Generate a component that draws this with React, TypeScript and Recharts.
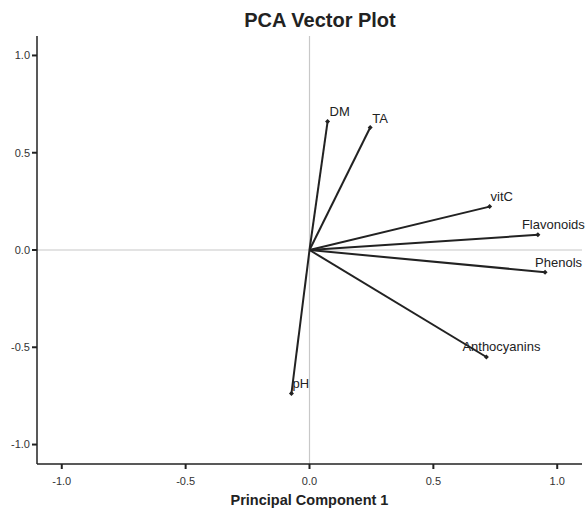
import { Label, ReferenceLine, Scatter, ScatterChart, XAxis, YAxis } from "recharts";

const variables = ["DM", "TA", "vitC", "Flavonoids", "Phenols", "Anthocyanins", "pH"];
const pc1 = [0.073, 0.245, 0.727, 0.922, 0.951, 0.714, -0.073];
const pc2 = [0.66, 0.63, 0.223, 0.078, -0.114, -0.55, -0.738];
const ticks = [-1, -0.5, 0, 0.5, 1];

// label nudges so names don't run off the plot
const LABEL_SHIFT: Record<string, [number, number]> = {
  DM: [2, -10],
  TA: [2, -9],
  vitC: [1, -10],
  Flavonoids: [-16, -10],
  Phenols: [-10, -10],
  Anthocyanins: [-24, -11],
  pH: [1, -10],
};

const FONT = "Arial, 'Liberation Sans', sans-serif";

function VectorEnd(props: any) {
  const { cx, cy, payload } = props;
  if (!payload || !payload.name) return <g />;
  const [dx, dy] = LABEL_SHIFT[payload.name] || [2, -10];
  return (
    <g>
      <polygon
        points={`${cx},${cy - 2.5} ${cx + 2.5},${cy} ${cx},${cy + 2.5} ${cx - 2.5},${cy}`}
        fill="#222"
      />
      <text
        x={cx + dx}
        y={cy + dy}
        dominantBaseline="central"
        fontSize={13}
        fill="#222"
        fontFamily={FONT}
      >
        {payload.name}
      </text>
    </g>
  );
}

export default function App() {
  return (
    <div style={{ position: "relative", width: 586, height: 514, fontFamily: FONT }}>
      <style>{`body{margin:0}`}</style>
      <div
        style={{
          position: "absolute",
          left: 0,
          width: 640,
          top: 8,
          textAlign: "center",
          fontSize: 20,
          fontWeight: "bold",
          color: "#222",
          lineHeight: "24px",
        }}
      >
        PCA Vector Plot
      </div>
      <ScatterChart
        width={586}
        height={514}
        margin={{ top: 36, right: 4, left: 0, bottom: 0 }}
        style={{ overflow: "visible" }}
      >
        <XAxis
          type="number"
          dataKey="x"
          domain={[-1.1, 1.1]}
          ticks={ticks}
          tickFormatter={(v: number) => v.toFixed(1)}
          height={50}
          axisLine={{ stroke: "#222", strokeWidth: 1.5 }}
          tickLine={{ stroke: "#222", strokeWidth: 2 }}
          tickSize={5}
          tickMargin={8}
          tick={{ fontSize: 11, fill: "#333", fontFamily: FONT }}
        >
          <Label
            value="Principal Component 1"
            position="insideBottom"
            offset={9}
            style={{ fontSize: 14.5, fontWeight: "bold", fill: "#222", fontFamily: FONT }}
          />
        </XAxis>
        <YAxis
          type="number"
          dataKey="y"
          domain={[-1.1, 1.1]}
          ticks={ticks}
          tickFormatter={(v: number) => v.toFixed(1)}
          width={37}
          axisLine={{ stroke: "#222", strokeWidth: 1.5 }}
          tickLine={{ stroke: "#222", strokeWidth: 2 }}
          tickSize={5}
          tickMargin={2}
          tick={{ fontSize: 11, fill: "#333", fontFamily: FONT }}
        />
        <ReferenceLine x={0} stroke="#c8c8c8" strokeWidth={1.2} />
        <ReferenceLine y={0} stroke="#c8c8c8" strokeWidth={1.2} />
        {variables.map((name, i) => (
          <Scatter
            key={name}
            data={[
              { x: 0, y: 0, name: "" },
              { x: pc1[i], y: pc2[i], name },
            ]}
            line={{ stroke: "#222", strokeWidth: 2 }}
            shape={VectorEnd}
            isAnimationActive={false}
          />
        ))}
      </ScatterChart>
    </div>
  );
}
